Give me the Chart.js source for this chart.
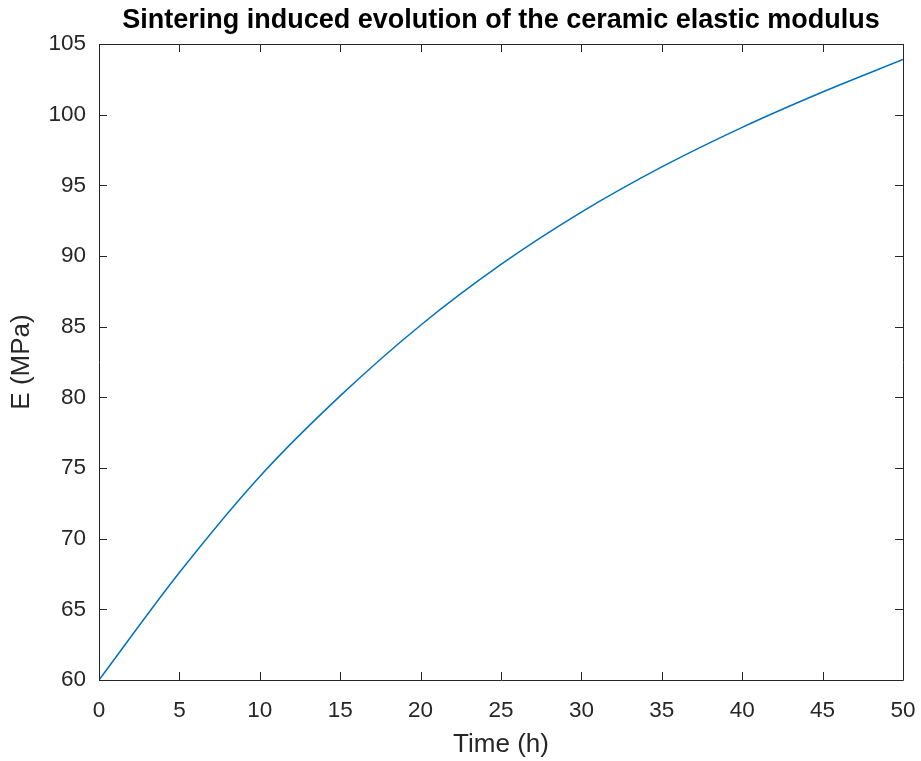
<!DOCTYPE html>
<html>
<head>
<meta charset="utf-8">
<script src="https://cdn.jsdelivr.net/npm/chart.js@4.4.1/dist/chart.umd.min.js"></script>
<style>
  body { margin: 0; background: #fff; }
  canvas { display: block; }
</style>
</head>
<body>
<canvas id="modulus-chart" width="921" height="761"></canvas>
<script>
// Time in hours and elastic modulus in MPa
const timeHours = [0, 5, 10, 15, 20, 25, 30, 35, 40, 45, 50];
const modulusMPa = [60, 67.6, 74.4, 80.1, 85.1, 89.4, 93.1, 96.3, 99.1, 101.6, 103.9];

const xTicks = [0, 5, 10, 15, 20, 25, 30, 35, 40, 45, 50];
const yTicks = [60, 65, 70, 75, 80, 85, 90, 95, 100, 105];

const axisColor = '#262626';
const fontFamily = '"Liberation Sans", Arial, Helvetica, sans-serif';

// build {x, y} points for the linear x axis
let points = [];
timeHours.forEach(function(t, i) {
    points.push({x: t, y: modulusMPa[i]});
});

// box round the plot area plus inward tick marks on all four sides (MATLAB style)
const boxTicks = {
    id: 'boxTicks',
    afterDraw(chart) {
        const c = chart.ctx;
        const a = chart.chartArea;
        const xs = chart.scales.x;
        const ys = chart.scales.y;
        const len = 8;
        c.save();
        c.strokeStyle = axisColor;
        c.lineWidth = 1;
        c.beginPath();
        c.rect(Math.round(a.left) + 0.5, Math.round(a.top) + 0.5,
               Math.round(a.right - a.left), Math.round(a.bottom - a.top));
        xTicks.forEach(function(v) {
            const px = Math.round(xs.getPixelForValue(v)) + 0.5;
            c.moveTo(px, a.bottom);
            c.lineTo(px, a.bottom - len);
            c.moveTo(px, a.top);
            c.lineTo(px, a.top + len);
        });
        yTicks.forEach(function(v) {
            const py = Math.round(ys.getPixelForValue(v)) + 0.5;
            c.moveTo(a.left, py);
            c.lineTo(a.left + len, py);
            c.moveTo(a.right, py);
            c.lineTo(a.right - len, py);
        });
        c.stroke();
        c.restore();
    }
};

const ctx = document.getElementById('modulus-chart').getContext('2d');
const chart = new Chart(ctx, {
    type: 'line',
    data: {
        datasets: [{
            label: 'E',
            data: points,
            borderColor: '#0072BD',
            borderWidth: 1.5,
            pointRadius: 0,
            fill: false,
            cubicInterpolationMode: 'monotone'
        }]
    },
    options: {
        responsive: false,
        animation: false,
        layout: { padding: { left: 0, right: 18, top: 0, bottom: 0 } },
        plugins: {
            legend: { display: false },
            tooltip: { enabled: false },
            title: {
                display: true,
                text: 'Sintering induced evolution of the ceramic elastic modulus',
                color: '#000',
                fullSize: false,
                font: { family: fontFamily, size: 27, weight: 'bold' },
                padding: { top: 4, bottom: 7.6 }
            }
        },
        scales: {
            x: {
                type: 'linear',
                min: 0,
                max: 50,
                afterBuildTicks: function(scale) {
                    scale.ticks = xTicks.map(v => ({value: v}));
                },
                afterFit: function(scale) {
                    scale.height = 81;
                    scale.paddingLeft = 0;
                    scale.paddingRight = 0;
                },
                grid: { display: false, drawTicks: false },
                border: { display: false },
                ticks: {
                    color: axisColor,
                    padding: 17,
                    maxRotation: 0,
                    font: { family: fontFamily, size: 22.5 }
                },
                title: {
                    display: true,
                    text: 'Time (h)',
                    color: axisColor,
                    font: { family: fontFamily, size: 26 },
                    padding: { top: 0, bottom: 1 }
                }
            },
            y: {
                min: 60,
                max: 105,
                afterBuildTicks: function(scale) {
                    scale.ticks = yTicks.map(v => ({value: v}));
                },
                afterFit: function(scale) {
                    scale.width = 99;
                    scale.paddingTop = 0;
                    scale.paddingBottom = 0;
                },
                grid: { display: false, drawTicks: false },
                border: { display: false },
                ticks: {
                    color: axisColor,
                    padding: 13,
                    font: { family: fontFamily, size: 22.5 }
                },
                title: {
                    display: true,
                    text: 'E (MPa)',
                    color: axisColor,
                    font: { family: fontFamily, size: 26 },
                    padding: { top: 6, bottom: 0 }
                }
            }
        }
    },
    plugins: [boxTicks]
});
</script>
</body>
</html>
